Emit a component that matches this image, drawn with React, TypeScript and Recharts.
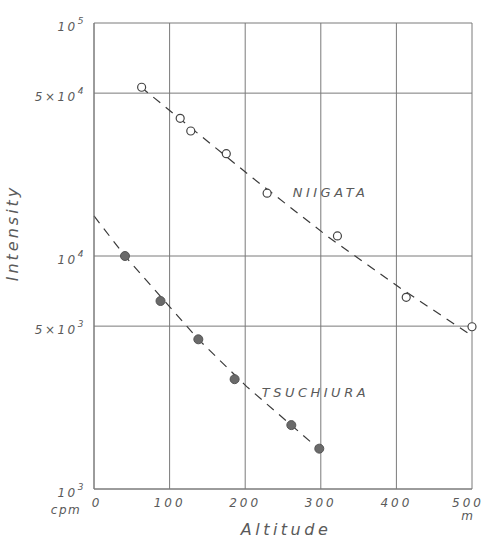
import React from 'react';
import { ComposedChart, Line, Scatter, XAxis, YAxis, CartesianGrid, ReferenceDot } from 'recharts';

// measured points
const niigataAlt = [63, 114, 128, 175, 229, 322, 413, 500];
const niigataCpm = [53000, 39000, 34400, 27500, 18600, 12200, 6650, 4970];
const tsuchiuraAlt = [41, 88, 138, 186, 261, 298];
const tsuchiuraCpm = [10000, 6410, 4390, 2960, 1880, 1490];

// dashed fitted curves
const niigataFitAlt = [62, 210, 310, 405, 500];
const niigataFitCpm = [53100, 21600, 12070, 7290, 4540];
const tsuchiuraFitAlt = [0, 41, 138, 202, 299];
const tsuchiuraFitCpm = [14850, 10000, 4390, 2750, 1470];

const xTicks = [0, 100, 200, 300, 400, 500];
const yTicks = [1000, 5000, 10000, 50000, 100000];
const yTickBase = ['10', '5×10', '10', '5×10', '10'];
const yTickExp = ['3', '3', '4', '4', '5'];

const zip = (alt: number[], cpm: number[]) => alt.map((a, i) => ({ alt: a, cpm: cpm[i] }));

const niigata = zip(niigataAlt, niigataCpm);
const tsuchiura = zip(tsuchiuraAlt, tsuchiuraCpm);
const niigataFit = zip(niigataFitAlt, niigataFitCpm);
const tsuchiuraFit = zip(tsuchiuraFitAlt, tsuchiuraFitCpm);

const FONT = '"DejaVu Sans", sans-serif';
const INK = '#5a5a5a';
const GRID = '#7a7a7a';

const textStyle = { fontFamily: FONT, fontStyle: 'italic' as const, fill: INK };

const YTick = (props: any) => {
  const { x, y, payload } = props;
  const i = yTicks.indexOf(payload.value);
  return (
    <g>
      <text x={x - 6} y={y + 8} textAnchor="end" fontSize={12} letterSpacing={2.5} {...textStyle}>
        {yTickBase[i]}
        <tspan dy={-7} fontSize={9}>
          {yTickExp[i]}
        </tspan>
      </text>
      {payload.value === 1000 && (
        <text x={x - 26} y={y + 25} textAnchor="middle" fontSize={12} letterSpacing={1.5} {...textStyle}>
          cpm
        </text>
      )}
    </g>
  );
};

const XTick = (props: any) => {
  const { x, y, payload } = props;
  const last = payload.value === 500;
  const shift = payload.value === 0 ? 3 : 0;
  return (
    <g>
      <text
        x={last ? x + 12 : x + shift}
        y={y + 16}
        textAnchor={last ? 'end' : 'middle'}
        fontSize={12}
        letterSpacing={3}
        {...textStyle}
      >
        {payload.value}
      </text>
      {last && (
        <text x={x - 5} y={y + 29} textAnchor="middle" fontSize={12} {...textStyle}>
          m
        </text>
      )}
    </g>
  );
};

const openDot = (p: any) => <circle cx={p.cx} cy={p.cy} r={4} fill="#fff" stroke="#444" strokeWidth={1.2} />;
const fullDot = (p: any) => <circle cx={p.cx} cy={p.cy} r={4.5} fill="#6a6a6a" stroke="#555" strokeWidth={1} />;

const tag = (text: string) => (props: any) => {
  const { viewBox } = props;
  return (
    <text x={viewBox.x} y={viewBox.y + 4} fontSize={13} letterSpacing={3.5} {...textStyle}>
      {text}
    </text>
  );
};

export default function App() {
  return (
    <div style={{ position: 'absolute', left: 0, top: 0, background: '#fff' }}>
      <ComposedChart width={485} height={539} margin={{ top: 23, right: 13, bottom: 20, left: 0 }}>
        <CartesianGrid stroke={GRID} strokeWidth={1} />
        <XAxis
          type="number"
          dataKey="alt"
          domain={[0, 500]}
          ticks={xTicks}
          interval={0}
          height={30}
          tickLine={false}
          tickSize={0}
          axisLine={{ stroke: GRID }}
          tick={<XTick />}
        />
        <YAxis
          type="number"
          dataKey="cpm"
          scale="log"
          domain={[1000, 100000]}
          allowDataOverflow
          ticks={yTicks}
          interval={0}
          width={94}
          tickLine={false}
          tickSize={0}
          axisLine={{ stroke: GRID }}
          tick={<YTick />}
        />
        <Line
          data={niigataFit}
          dataKey="cpm"
          type="linear"
          stroke="#3a3a3a"
          strokeWidth={1.2}
          strokeDasharray="9 7"
          dot={false}
          activeDot={false}
          isAnimationActive={false}
        />
        <Line
          data={tsuchiuraFit}
          dataKey="cpm"
          type="linear"
          stroke="#3a3a3a"
          strokeWidth={1.2}
          strokeDasharray="9 7"
          dot={false}
          activeDot={false}
          isAnimationActive={false}
        />
        <Scatter data={niigata} dataKey="cpm" shape={openDot} isAnimationActive={false} />
        <Scatter data={tsuchiura} dataKey="cpm" shape={fullDot} isAnimationActive={false} />
        <ReferenceDot x={263} y={18600} r={0.1} fill="none" stroke="none" label={{ content: tag('NIIGATA') }} />
        <ReferenceDot x={222} y={2580} r={0.1} fill="none" stroke="none" label={{ content: tag('TSUCHIURA') }} />
        <text x={18} y={233} transform="rotate(-90 18 233)" textAnchor="middle" fontSize={16} letterSpacing={3} {...textStyle}>
          Intensity
        </text>
        <text x={286} y={535} textAnchor="middle" fontSize={16} letterSpacing={3.5} {...textStyle}>
          Altitude
        </text>
      </ComposedChart>
    </div>
  );
}
